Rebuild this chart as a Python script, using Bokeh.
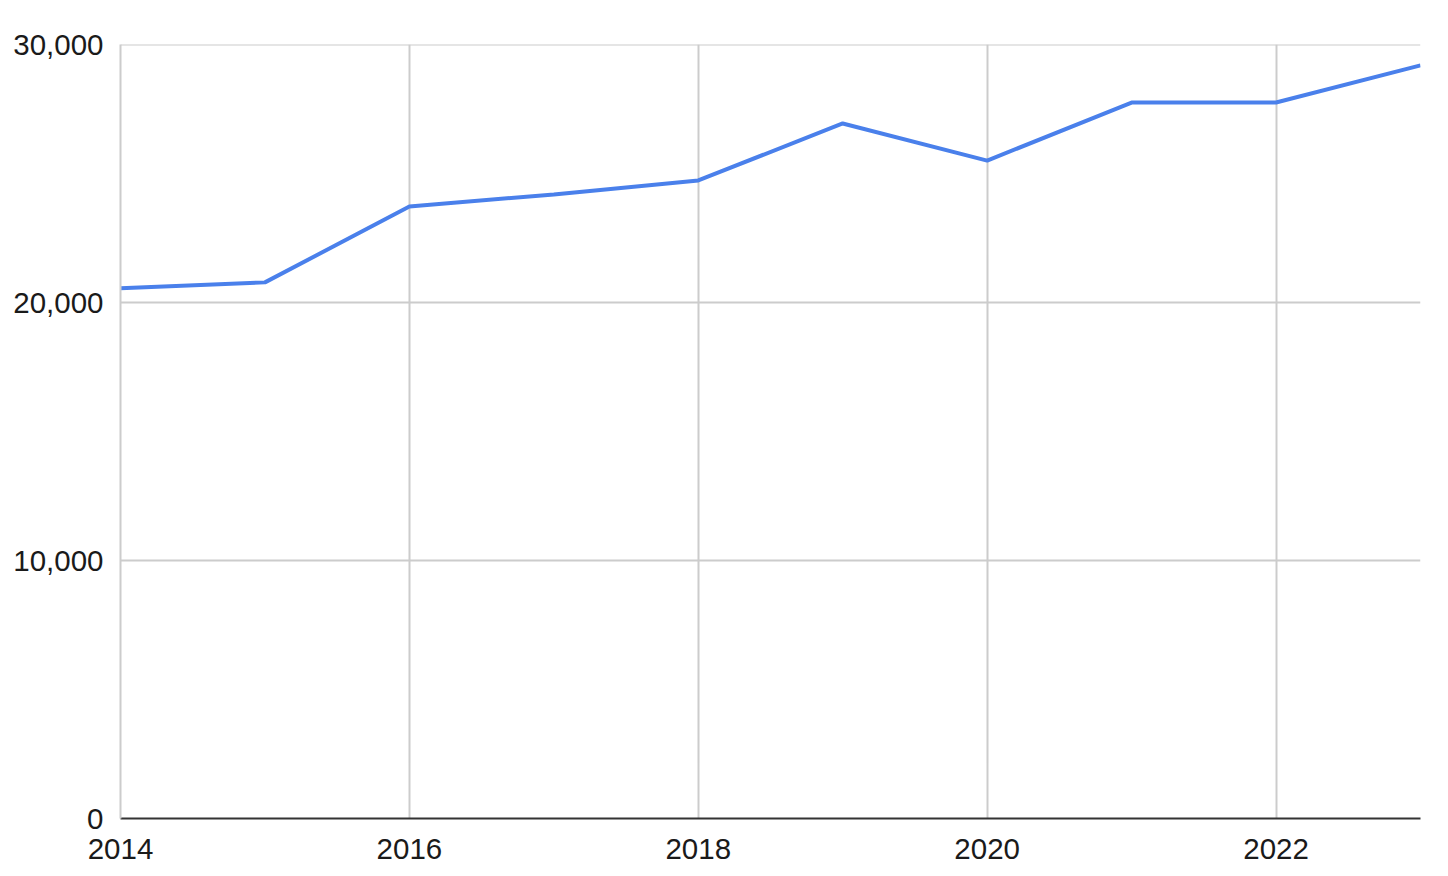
from bokeh.plotting import figure
from bokeh.models import Range1d, FixedTicker, NumeralTickFormatter, Span
from bokeh.embed import file_html
from bokeh.resources import INLINE

years = [2014, 2015, 2016, 2017, 2018, 2019, 2020, 2021, 2022, 2023]
values = [20550, 20780, 23720, 24190, 24730, 26940, 25500, 27750, 27750, 29190]
x_ticks = [2014, 2016, 2018, 2020, 2022]
y_ticks = [0, 10000, 20000, 30000]

p = figure(width=1432, height=866, output_backend="svg", toolbar_location=None,
           x_range=Range1d(2014, 2023), y_range=Range1d(0, 30000),
           min_border_left=120, min_border_right=12, min_border_top=44, min_border_bottom=48)
p.outline_line_color = None
p.background_fill_color = "white"

p.add_layout(Span(location=y_ticks[-1], dimension="width", line_color="#cccccc", line_width=2))
p.line(years, values, line_color="#4a80eb", line_width=4)

font = "Liberation Sans"
p.xaxis.ticker = FixedTicker(ticks=x_ticks)
p.yaxis.ticker = FixedTicker(ticks=y_ticks)
p.yaxis.formatter = NumeralTickFormatter(format="0,0")
for ax in (p.xaxis[0], p.yaxis[0]):
    ax.major_label_text_font = font
    ax.major_label_text_font_size = "29.5px"
    ax.major_label_text_color = "#1a1a1a"
    ax.major_tick_line_color = None
    ax.minor_tick_line_color = None
p.xaxis.axis_line_color = "#333333"
p.xaxis.axis_line_width = 2
p.yaxis.axis_line_color = "#cccccc"
p.yaxis.axis_line_width = 2
p.xaxis.major_label_standoff = 14
p.yaxis.major_label_standoff = 11

p.xgrid.grid_line_color = "#cccccc"
p.ygrid.grid_line_color = "#cccccc"
p.xgrid.grid_line_width = 2
p.ygrid.grid_line_width = 2

open("out.html", "w").write(file_html(p, INLINE))
